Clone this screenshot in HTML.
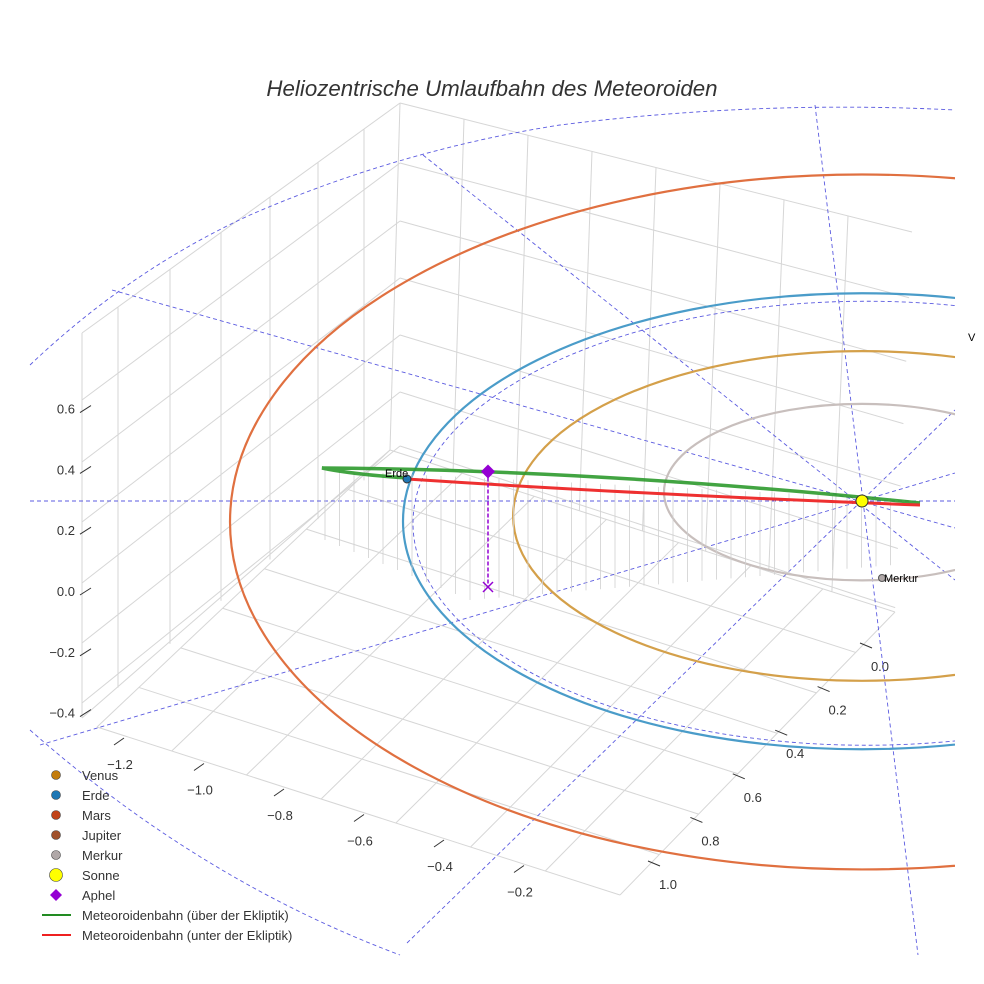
<!DOCTYPE html>
<html><head><meta charset="utf-8"><style>
body{margin:0;background:#fff;font-family:"Liberation Sans",sans-serif}
svg{display:block}
text{font-family:"Liberation Sans",sans-serif}
</style></head><body>
<svg id="c" width="984" height="984" viewBox="0 0 984 984">
<text x="492" y="96" text-anchor="middle" font-size="22.3" font-style="italic" fill="#333">Heliozentrische Umlaufbahn des Meteoroiden</text>
<defs><clipPath id="cl"><rect x="0" y="0" width="955" height="984"/></clipPath></defs>
<g id="grid" stroke="#d6d6d6" stroke-width="1" fill="none"></g>
<g id="ticks" font-size="13" fill="#333"></g>
<g id="dash" stroke="#5b5be0" stroke-width="0.9" stroke-dasharray="4,3" fill="none" clip-path="url(#cl)">
<path d="M30,365 Q130,270 250,215 Q400,150 560,125 Q760,100 955,110"/>
<path d="M30,730 Q200,880 400,955"/>
<path d="M30,501H955"/>
<path d="M815,105L918,955 M423,155L955,580 M112,290L955,528 M40,745L955,473 M407,943L955,410"/>
</g>
<g id="orbits" fill="none" stroke-width="2.2" clip-path="url(#cl)"></g>
<g id="meteor"></g>
<text x="968" y="341" font-size="11" fill="#000">V</text>
<g id="legend" font-size="13" fill="#333"></g>
</svg>
<script>
const planets=["Merkur","Venus","Erde","Mars"];
const radiiAU=[0.387,0.723,1.0,1.524];
const orbitColors=["#c8bfbd","#d4a04a","#4a9cc9","#e07040"];
const zTicks=["0.6","0.4","0.2","0.0","−0.2","−0.4"];
const xTicks=["−1.2","−1.0","−0.8","−0.6","−0.4","−0.2"];
const yTicks=["0.0","0.2","0.4","0.6","0.8","1.0"];
const aphelZ=0.33;
const sun=[862,501];
const NS="http://www.w3.org/2000/svg";
function el(t,a,p){const e=document.createElementNS(NS,t);for(const k in a)e.setAttribute(k,a[k]);p.appendChild(e);return e;}
// grid
const gg=document.getElementById('grid');
const L=(a,b,t)=>[a[0]+(b[0]-a[0])*t,a[1]+(b[1]-a[1])*t];
function ln(p,q){el('line',{x1:p[0],y1:p[1],x2:q[0],y2:q[1]},gg);}
const LWtf=[82,333],LWbf=[82,718],TB=[400,103],BB=[390,450],RT=[912,232],RB=[895,612];
const FL=[97,727],FR=[620,895];
ln(LWtf,TB);ln(TB,RT);ln(LWtf,LWbf);ln(TB,BB);ln(LWbf,BB);ln(BB,RB);ln(FL,FR);ln(FR,RB);ln(FL,BB);
const lwx=[118,170,221,270,318,364];
lwx.forEach(x=>{const t=(x-82)/(400-82);const top=L(LWtf,TB,t),bot=L(LWbf,BB,t);ln([x,top[1]],[x,bot[1]]);});
const zl=[[400,163],[462,221],[522,278],[583,335],[643,392],[703,446]];
zl.forEach(z=>{ln([82,z[0]],[400,z[1]]);const f=(z[1]-103)/(450-103);ln([400,z[1]],L(RT,RB,f));});
for(let i=1;i<8;i++){const t=i/8;ln(L(TB,RT,t),L(BB,RB,t));}
for(let i=1;i<7;i++){const t=i/7;ln(L(FL,FR,t),L(BB,RB,t));ln(L(FL,BB,t),L(FR,RB,t));}
// orbits
const rxOf=r=>0.7+542.4*r-84.1*r*r, ryOf=r=>228*r, cyOf=r=>sun[1]+21*Math.tanh((r-0.5)*4);
const og=document.getElementById('orbits');
planets.forEach((p,i)=>{const r=radiiAU[i];
 const e=el('ellipse',{cx:sun[0],cy:cyOf(r),rx:rxOf(r),ry:ryOf(r),stroke:orbitColors[i]},og);
 
 });
el('ellipse',{cx:sun[0]+4,cy:cyOf(1)+2,rx:rxOf(1)-6,ry:ryOf(1)-6,stroke:'#5b5be0','stroke-width':0.9,'stroke-dasharray':'4,3'},og);
// ticks
const tg=document.getElementById('ticks');
const zY=v=>591-parseFloat(v.replace('−','-'))*304;
zTicks.forEach(v=>{const y=zY(v);el('line',{x1:80,y1:y+4,x2:91,y2:y-3,stroke:'#333'},tg);const t=el('text',{x:75,y:y+5,'text-anchor':'end'},tg);t.textContent=v;
 });
xTicks.forEach((v,i)=>{const x=120+i*80,y=769+i*25.5;el('line',{x1:x-6,y1:y-24,x2:x+4,y2:y-31,stroke:'#333'},tg);const t=el('text',{x:x,y:y,'text-anchor':'middle'},tg);t.textContent=v;
 });
yTicks.forEach((v,i)=>{const x=880-i*42.4,y=671+i*43.6;el('line',{x1:x-20,y1:y-28,x2:x-8,y2:y-23,stroke:'#333'},tg);const t=el('text',{x:x,y:y,'text-anchor':'middle'},tg);t.textContent=v;
 });
// meteoroid
const mg=document.getElementById('meteor');
for(let i=0;i<40;i++){const x=325+i*14.5,yt=470+(x-322)*0.05,yb=540+(i<10?i*6:60)+(i>=10?-(i-10)*1.2:0);
 el('line',{x1:x,y1:yt,x2:x,y2:Math.max(yt+10,yb),stroke:'#d0d0d0','stroke-width':0.8},mg);}
const g1=el('path',{d:'M920,503 Q600,470 322,468 Q350,474 407,478',stroke:'#2e9a2e','stroke-width':3.5,fill:'none','stroke-opacity':0.9},mg);

const r1=el('path',{d:'M407,479 Q650,495 920,505',stroke:'#ee3030','stroke-width':3,fill:'none'},mg);

const ay=zY('0.0')-aphelZ*362;
el('line',{x1:488,y1:ay,x2:488,y2:587,stroke:'#9400d3','stroke-dasharray':'4,2','stroke-width':1.5},mg);
el('path',{d:'M483,582l10,10M493,582l-10,10',stroke:'#9400d3','stroke-width':1.5},mg);
const ap=el('path',{d:`M488,${ay-7}l7,7l-7,7l-7,-7z`,fill:'#9400d3'},mg);

el('circle',{cx:407,cy:479,r:4,fill:'#1f77b4',stroke:'#333'},mg);
const te=el('text',{x:385,y:477,'font-size':11},mg);te.textContent='Erde';
el('circle',{cx:882,cy:578,r:3.5,fill:'#b0a8a8',stroke:'#555'},mg);
const tm=el('text',{x:884,y:582,'font-size':11},mg);tm.textContent='Merkur';
const sn=el('circle',{cx:sun[0],cy:sun[1],r:6,fill:'#ffff00',stroke:'#333'},mg);

// legend
const lg=document.getElementById('legend');
const items=[["Venus","c","#c27c0e",5],["Erde","c","#1f77b4",5],["Mars","c","#c0441a",5],["Jupiter","c","#a0522d",5],["Merkur","c","#b0a8a8",5],["Sonne","c","#ffff00",7],["Aphel","d","#9400d3",6],["Meteoroidenbahn (über der Ekliptik)","l","#228b22"],["Meteoroidenbahn (unter der Ekliptik)","l","#ee2020"]];
items.forEach((it,i)=>{const y=775+i*20;const g=el('g',{},lg);
 
 if(it[1]=='c')el('circle',{cx:56,cy:y,r:it[3]-0.5,fill:it[2],stroke:'#444','stroke-width':0.6},g);
 else if(it[1]=='d')el('path',{d:`M56,${y-6}l6,6l-6,6l-6,-6z`,fill:it[2]},g);
 else el('line',{x1:42,y1:y,x2:71,y2:y,stroke:it[2],'stroke-width':2},g);
 const t=el('text',{x:82,y:y+5},g);t.textContent=it[0];});
</script>
</body></html>
